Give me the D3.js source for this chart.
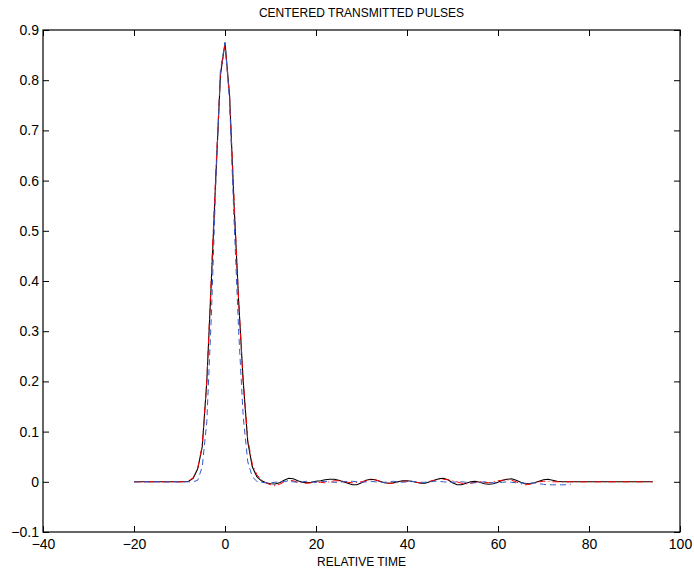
<!DOCTYPE html>
<html>
<head>
<meta charset="utf-8">
<script src="https://cdn.jsdelivr.net/npm/d3@7"></script>
<style>
  body { margin: 0; background: #fff; }
  svg { display: block; font-family: "Liberation Sans", Arial, Helvetica, sans-serif; }
</style>
</head>
<body>
<svg id="chart" width="694" height="573"></svg>
<script>
'use strict';

//Sample times shared by all three pulses.
const time = [-20,-19,-18,-17,-16,-15,-14,-13,-12,-11,-10,-9,-8,-7,-6,-5,-4,-3,-2,-1,
	0,1,2,3,4,5,6,7,8,9,10,11,12,13,14,15,16,17,18,19,
	20,21,22,23,24,25,26,27,28,29,30,31,32,33,34,35,36,37,38,39,
	40,41,42,43,44,45,46,47,48,49,50,51,52,53,54,55,56,57,58,59,
	60,61,62,63,64,65,66,67,68,69,70,71,72,73,74,75,76,77,78,79,
	80,81,82,83,84,85,86,87,88,89,90,91,92,93,94];

//Black solid pulse.
const pulseSolid = [0,0,0,0,0,0,0,0,0,0,0,0,0.001,0.007,0.026,0.07,0.2,0.4,0.61,0.81,
	0.875,0.77,0.55,0.36,0.2,0.08,0.03,0.01,0.002,-0.002,-0.004,-0.0045,-0.002,0.003,0.007,0.006,0.002,-0.001,-0.002,-0.001,
	0.001,0.002,0.004,0.005,0.005,0.003,0,-0.003,-0.006,-0.006,-0.002,0.003,0.005,0.004,0.001,-0.002,-0.003,-0.002,0,0.002,
	0.002,0.001,-0.001,-0.003,-0.003,0,0.003,0.006,0.007,0.004,-0.002,-0.006,-0.006,-0.003,0,0.001,-0.001,-0.004,-0.005,-0.004,
	-0.001,0.003,0.005,0.006,0.003,-0.001,-0.004,-0.004,-0.002,0.001,0.004,0.005,0.003,0.001,0,0,0,0,0,0,
	0,0,0,0,0,0,0,0,0,0,0,0,0,0,0];

//Red dash-dot pulse.
const pulseDashDot = [0,0,0,0,0,0,0,0,0,0,0,0,0.001,0.008,0.027,0.072,0.2,0.41,0.62,0.815,
	0.87,0.77,0.56,0.36,0.2,0.085,0.035,0.014,0.004,-0.002,-0.006,-0.008,-0.005,0,0.003,0.002,-0.001,-0.002,-0.003,-0.002,
	-0.001,-0.001,-0.002,0,0.002,0.002,0.001,-0.001,-0.002,-0.001,0,0.002,0.004,0.004,0.001,-0.002,-0.003,-0.003,-0.001,0.001,
	0.001,0,-0.001,-0.002,-0.001,0.001,0.003,0.005,0.005,0.004,0.002,0,-0.003,-0.004,-0.003,-0.001,0,-0.001,-0.002,0,
	0.002,0.003,0.004,0.003,0,-0.004,-0.006,-0.005,-0.002,0,0.001,0.001,0,0,0,0,0,0,0,0,
	0,0,0,0,0,0,0,0,0,0,0,0,0,0,0];

//Blue dashed pulse (stops at 76).
const pulseDashed = [0,0,0,0,0,0,0,0,0,0,0,0,0,0,0.003,0.03,0.12,0.33,0.6,0.82,
	0.875,0.76,0.52,0.3,0.13,0.04,0.01,0.001,-0.001,-0.002,-0.002,-0.001,0,0.001,0.001,0,-0.001,0,0.001,0,
	-0.001,0,0.001,0,-0.001,-0.001,0,0.001,0.001,0,-0.001,0,0.001,0,-0.001,-0.001,0,0.001,0,-0.001,
	0,0.001,0,-0.001,-0.001,0,0.001,0.001,0,-0.001,-0.001,0,0,-0.001,-0.002,-0.002,-0.001,0,-0.001,-0.002,
	-0.002,-0.001,0,-0.001,-0.002,-0.002,-0.003,-0.003,-0.002,-0.004,-0.005,-0.006,-0.006,-0.006,-0.006,-0.006,-0.005];

const xTicks = [-40, -20, 0, 20, 40, 60, 80, 100];
const yTicks = [-0.1, 0, 0.1, 0.2, 0.3, 0.4, 0.5, 0.6, 0.7, 0.8, 0.9];
const titleText = 'CENTERED TRANSMITTED PULSES';
const xLabelText = 'RELATIVE TIME';

const width = 694;
const height = 573;
const margin = {top: 30, right: 14, bottom: 41, left: 43};
const innerWidth = width - margin.left - margin.right;
const innerHeight = height - margin.top - margin.bottom;

const xScale = d3.scaleLinear().domain([-40, 100]).range([0, innerWidth]);
const yScale = d3.scaleLinear().domain([-0.1, 0.9]).range([innerHeight, 0]);

const svg = d3.select('#chart');
const g = svg.append('g').attr('transform', `translate(${margin.left},${margin.top})`);

//MATLAB style minus sign.
const fmtX = (d) => String(d).replace('-', '\u2212');
const fmtY = (d) => d3.format('.1~f')(d).replace('-', '\u2212');
const tick = 6;

//Axes with inward ticks on all four sides.
const xAxis = d3.axisBottom(xScale).tickValues(xTicks).tickFormat(fmtX).tickSizeInner(-tick).tickSizeOuter(0).tickPadding(7);
const yAxis = d3.axisLeft(yScale).tickValues(yTicks).tickFormat(fmtY).tickSizeInner(-tick).tickSizeOuter(0).tickPadding(4);
const xAxisTop = d3.axisTop(xScale).tickValues(xTicks).tickFormat('').tickSizeInner(-tick).tickSizeOuter(0);
const yAxisRight = d3.axisRight(yScale).tickValues(yTicks).tickFormat('').tickSizeInner(-tick).tickSizeOuter(0);

function styleAxis(sel) {
	sel.select('.domain').remove();
	sel.selectAll('line').attr('stroke', '#000');
	sel.selectAll('text').attr('fill', '#000').style('font-size', '14px');
}

g.append('g').attr('transform', `translate(0,${innerHeight})`).call(xAxis).call(styleAxis);
g.append('g').call(yAxis).call(styleAxis);
g.append('g').call(xAxisTop).call(styleAxis);
g.append('g').attr('transform', `translate(${innerWidth},0)`).call(yAxisRight).call(styleAxis);

//Lines.
const line = (vals) => d3.line()
	.x((d, i) => xScale(time[i]))
	.y((d) => yScale(d))(vals);

g.append('path').attr('d', line(pulseSolid))
	.attr('fill', 'none').attr('stroke', '#000').attr('stroke-width', 1.1);
g.append('path').attr('d', line(pulseDashDot))
	.attr('fill', 'none').attr('stroke', '#ff0000').attr('stroke-width', 1)
	.attr('stroke-dasharray', '7,3,1,3');
g.append('path').attr('d', line(pulseDashed))
	.attr('fill', 'none').attr('stroke', '#3558c8').attr('stroke-width', 1)
	.attr('stroke-dasharray', '6,4');

//Box.
g.append('rect')
	.attr('x', 0).attr('y', 0)
	.attr('width', innerWidth).attr('height', innerHeight)
	.attr('fill', 'none').attr('stroke', '#000').attr('stroke-width', 1.2);

//Title and x label.
svg.append('text')
	.attr('x', margin.left + innerWidth / 2).attr('y', 17)
	.attr('text-anchor', 'middle').style('font-size', '12px')
	.text(titleText);
svg.append('text')
	.attr('x', margin.left + innerWidth / 2).attr('y', 566)
	.attr('text-anchor', 'middle').style('font-size', '12px')
	.text(xLabelText);
</script>
</body>
</html>
